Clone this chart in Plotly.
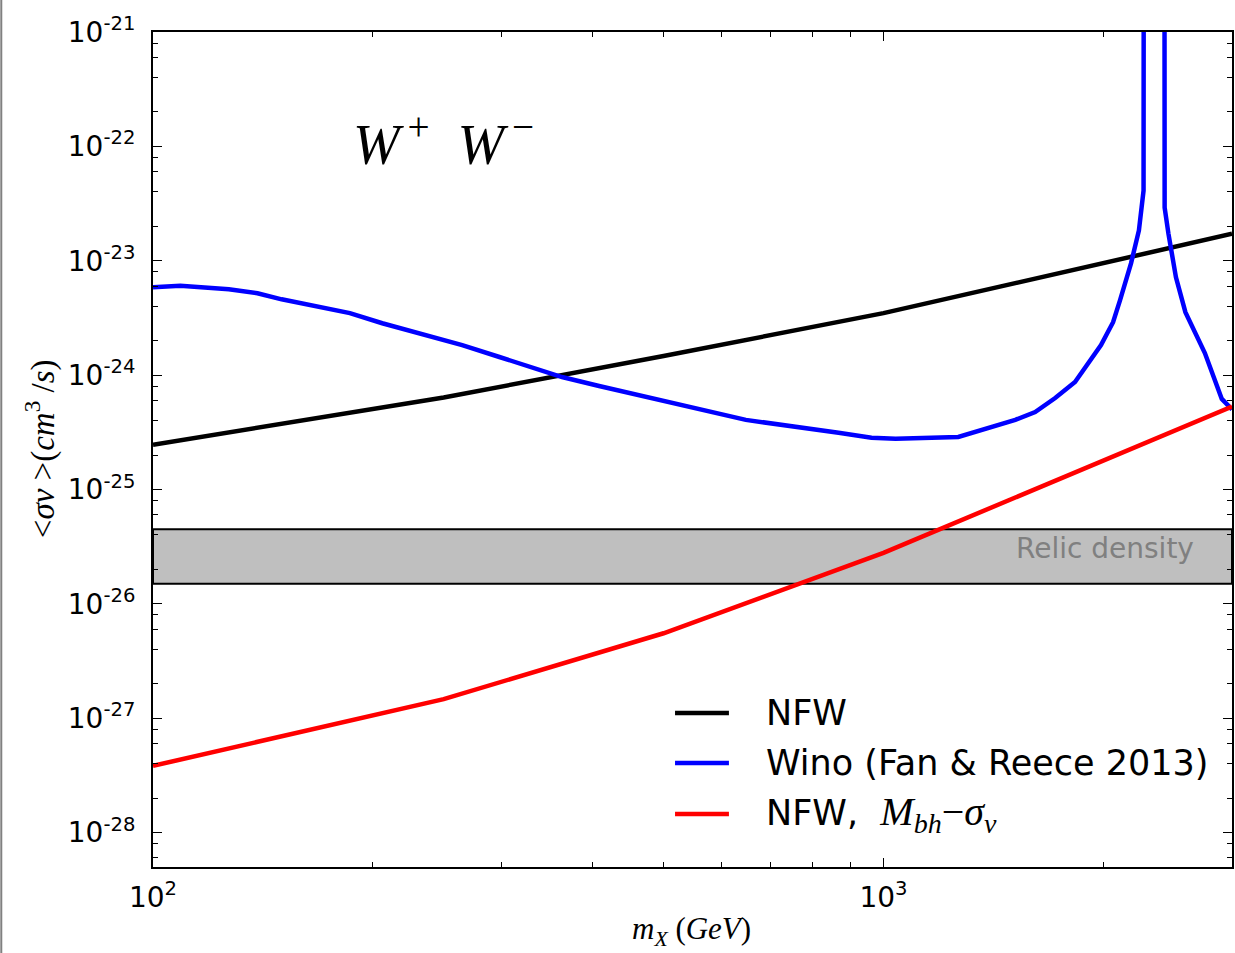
import plotly.graph_objects as go

# ---- data -------------------------------------------------------------
# NFW profile limit on <sigma v> for the W+W- channel
mass_nfw = [100, 250, 500, 1000, 3000]
sv_nfw = [2.46e-25, 6.38e-25, 1.47e-24, 3.48e-24, 1.72e-23]

# Wino annihilation cross section (Fan & Reece 2013), with the Sommerfeld resonance
mass_wino = [100, 109, 127, 139, 150, 186, 206, 239, 265, 298, 363, 408, 488,
             648, 868, 963, 1039, 1266, 1515, 1613, 1718, 1829, 1985, 2062,
             2108, 2182, 2237, 2270, 2272, 2424, 2426, 2455, 2514, 2590, 2754,
             2869, 2905, 3000]
sv_wino = [5.86e-24, 6.04e-24, 5.64e-24, 5.20e-24, 4.60e-24, 3.48e-24, 2.84e-24,
           2.19e-24, 1.83e-24, 1.44e-24, 9.62e-25, 8.03e-25, 6.19e-25, 4.06e-25,
           3.13e-25, 2.83e-25, 2.77e-25, 2.88e-25, 4.06e-25, 4.76e-25, 6.31e-25,
           8.71e-25, 1.83e-24, 2.90e-24, 4.52e-24, 9.48e-24, 1.84e-23, 4.11e-23,
           1e-19, 1e-19, 2.92e-23, 1.73e-23, 7.16e-24, 3.55e-24, 1.56e-24,
           7.57e-25, 6.19e-25, 5.0e-25]

# NFW with the M_bh - sigma_v relation
mass_bh = [100, 250, 500, 1000, 3000]
sv_bh = [3.83e-28, 1.47e-27, 5.53e-27, 2.79e-26, 5.32e-25]

# thermal relic density band
relic_low = 1.5e-26
relic_high = 4.5e-26
mass_span = [100, 3000]

y_tickvals = [1e-28, 1e-27, 1e-26, 1e-25, 1e-24, 1e-23, 1e-22, 1e-21]
y_ticktext = ["10<sup>-28</sup>", "10<sup>-27</sup>", "10<sup>-26</sup>",
              "10<sup>-25</sup>", "10<sup>-24</sup>", "10<sup>-23</sup>",
              "10<sup>-22</sup>", "10<sup>-21</sup>"]
x_tickvals = [100, 1000]
x_ticktext = ["10<sup>2</sup>", "10<sup>3</sup>"]

legend_labels = [
    "NFW",
    "Wino (Fan &amp; Reece 2013)",
    "NFW,  <span style=\"font-family:'Liberation Serif';font-size:40px\"><i>M</i><sub><i>bh</i></sub>−<i>σ</i><sub><i>v</i></sub></span>",
]
legend_colors = ["#000000", "#0000ff", "#ff0000"]

# ---- geometry ---------------------------------------------------------
W, H = 1235, 953
ML, MR, MT, MB = 153, 1, 32, 86
PW, PH = W - ML - MR, H - MT - MB


def px(x):
    return (x - ML) / PW


def py(y):
    return (H - MB - y) / PH


SANS = "DejaVu Sans"
SERIF = "Liberation Serif"
LW = 4.5

fig = go.Figure()

fig.add_trace(go.Scatter(
    x=[mass_span[0], mass_span[1], mass_span[1], mass_span[0], mass_span[0]],
    y=[relic_low, relic_low, relic_high, relic_high, relic_low],
    fill="toself", fillcolor="#bfbfbf", mode="lines",
    line=dict(color="black", width=2), hoverinfo="skip", showlegend=False))

fig.add_trace(go.Scatter(x=mass_nfw, y=sv_nfw, mode="lines",
                         line=dict(color=legend_colors[0], width=LW),
                         name="NFW", showlegend=False))
fig.add_trace(go.Scatter(x=mass_wino, y=sv_wino, mode="lines",
                         line=dict(color=legend_colors[1], width=LW),
                         name="Wino", showlegend=False))
fig.add_trace(go.Scatter(x=mass_bh, y=sv_bh, mode="lines",
                         line=dict(color=legend_colors[2], width=LW),
                         name="NFW, M_bh-sigma_v", showlegend=False))

x_minor = [k * 10 ** e for e in (2, 3) for k in range(2, 10)]
y_minor = [k * 10.0 ** e for e in range(-29, -21) for k in (2, 4, 6, 8)]

axis_common = dict(
    showline=True, linecolor="black", linewidth=2, mirror="allticks",
    ticks="inside", ticklen=9, tickwidth=1.2, tickcolor="black",
    showgrid=False, zeroline=False,
    tickfont=dict(family=SANS, size=28, color="black"),
)

fig.update_xaxes(type="log", range=[2, 3.4771], tickmode="array",
                 tickvals=x_tickvals, ticktext=x_ticktext,
                 minor=dict(tickmode="array", tickvals=x_minor, ticks="inside",
                            ticklen=5, tickwidth=1, tickcolor="black"),
                 ticklabelstandoff=4, **axis_common)
fig.update_yaxes(type="log", range=[-28.301, -21], tickmode="array",
                 tickvals=y_tickvals, ticktext=y_ticktext,
                 minor=dict(tickmode="array", tickvals=y_minor, ticks="inside",
                            ticklen=5, tickwidth=1, tickcolor="black"),
                 ticklabelstandoff=10, **axis_common)

annotations = [
    dict(x=px(351), y=py(140), xanchor="left", yanchor="middle",
         text="<i>W</i><sup>\u2009+</sup>  <i>W</i><sup>\u2009−</sup>",
         font=dict(family=SERIF, size=56, color="black")),
    dict(x=px(1198), y=py(548), xanchor="right", yanchor="middle",
         text="Relic density", font=dict(family=SANS, size=28, color="#808080")),
    dict(x=px(692), y=py(931), xanchor="center", yanchor="middle",
         text="<i>m</i><sub><i>X</i></sub> (<i>GeV</i>)",
         font=dict(family=SERIF, size=31, color="black")),
    dict(x=px(40), y=py(449), xanchor="center", yanchor="middle", textangle=-90,
         text="&lt;<i>σv</i> &gt;(<i>cm</i><sup>3</sup> /<i>s</i>)",
         font=dict(family=SERIF, size=33, color="black")),
]

shapes = [dict(type="line", xref="paper", yref="paper",
               x0=px(1), x1=px(1), y0=py(0), y1=py(H),
               line=dict(color="#808080", width=2))]

legend_rows = [713, 763, 814]
for label, color, row in zip(legend_labels, legend_colors, legend_rows):
    shapes.append(dict(type="line", xref="paper", yref="paper",
                       x0=px(676), x1=px(730), y0=py(row), y1=py(row),
                       line=dict(color=color, width=LW)))
    annotations.append(dict(x=px(765), y=py(row), xanchor="left", yanchor="middle",
                            text=label, font=dict(family=SANS, size=35, color="black")))

for a in annotations:
    a.update(xref="paper", yref="paper", showarrow=False)

fig.update_layout(
    width=W, height=H, margin=dict(l=ML, r=MR, t=MT, b=MB),
    paper_bgcolor="white", plot_bgcolor="white",
    annotations=annotations, shapes=shapes, showlegend=False,
)

fig.write_html("out.html")
